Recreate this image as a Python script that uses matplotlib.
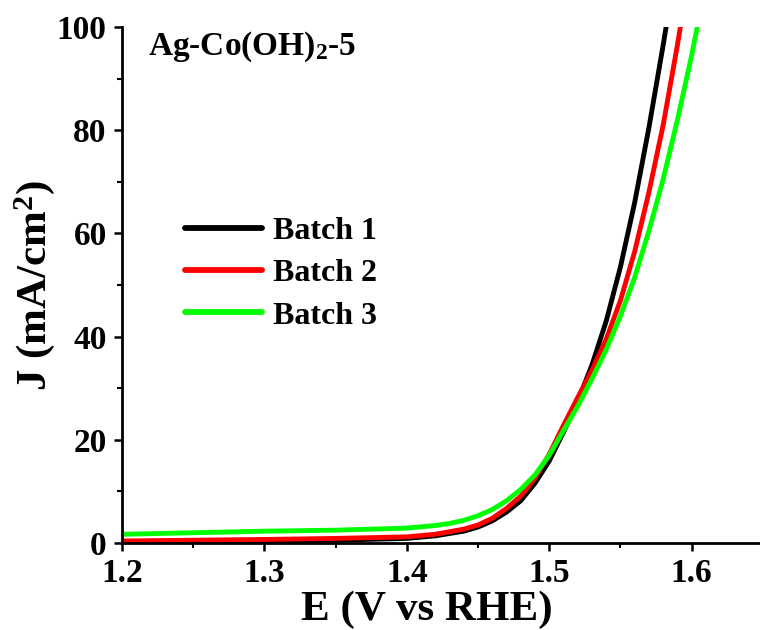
import numpy as np
import matplotlib
matplotlib.use("Agg")
import matplotlib.pyplot as plt
from matplotlib.ticker import MultipleLocator

plt.rcParams['font.family'] = 'serif'
plt.rcParams['font.serif'] = ['Liberation Serif', 'DejaVu Serif']
plt.rcParams['font.weight'] = 'bold'
plt.rcParams['mathtext.fontset'] = 'custom'
plt.rcParams['mathtext.rm'] = 'Liberation Serif:bold'
plt.rcParams['mathtext.default'] = 'rm'

# LSV curves (E in V vs RHE, J in mA/cm2)
e1 = [1.20, 1.25, 1.30, 1.35, 1.40, 1.42, 1.44, 1.45, 1.46, 1.47, 1.48, 1.49,
      1.50, 1.51, 1.52, 1.53, 1.54, 1.55, 1.56, 1.57, 1.58, 1.585]
j1 = [0.1, 0.2, 0.35, 0.55, 0.9, 1.4, 2.3, 3.1, 4.3, 6.0, 8.2, 11.6,
      15.9, 21.5, 27.5, 34.5, 43.0, 53.5, 66.0, 80.5, 96.5, 105.0]

e2 = [1.20, 1.25, 1.30, 1.35, 1.40, 1.42, 1.44, 1.45, 1.46, 1.47, 1.48, 1.49,
      1.50, 1.51, 1.52, 1.53, 1.54, 1.55, 1.56, 1.57, 1.58, 1.59, 1.595]
j2 = [0.4, 0.55, 0.7, 0.9, 1.2, 1.7, 2.7, 3.5, 4.8, 6.7, 9.1, 12.6,
      17.2, 22.8, 28.2, 33.5, 39.5, 47.0, 56.5, 68.0, 81.0, 96.5, 105.0]

e3 = [1.20, 1.25, 1.30, 1.35, 1.40, 1.42, 1.43, 1.44, 1.45, 1.46, 1.47, 1.48,
      1.49, 1.50, 1.51, 1.52, 1.53, 1.54, 1.55, 1.56, 1.57, 1.58, 1.59, 1.60, 1.605]
j3 = [1.7, 2.0, 2.3, 2.5, 2.9, 3.4, 3.8, 4.4, 5.3, 6.5, 8.2, 10.4,
      13.2, 17.0, 21.8, 26.5, 31.8, 37.5, 44.0, 51.5, 60.5, 70.5, 82.0, 94.5, 101.5]

labels = ["Batch 1", "Batch 2", "Batch 3"]
colors = ["black", "red", "#00ff00"]

fig = plt.figure(figsize=(7.6, 6.3), dpi=100)
ax = fig.add_axes([0.1605, 0.138, 0.8395, 0.819])

for e, j, lab, c in zip([e1, e2, e3], [j1, j2, j3], labels, colors):
    ax.plot(e, j, color=c, lw=3.5, label=lab, solid_capstyle='round',
            solid_joinstyle='round')

ax.set_xlim(1.2, 1.648)
ax.set_ylim(0, 100)
ax.xaxis.set_major_locator(MultipleLocator(0.1))
ax.xaxis.set_minor_locator(MultipleLocator(0.05))
ax.yaxis.set_major_locator(MultipleLocator(20))
ax.yaxis.set_minor_locator(MultipleLocator(10))

for s in ['top', 'right']:
    ax.spines[s].set_visible(False)
for s in ['left', 'bottom']:
    ax.spines[s].set_linewidth(2.0)

ax.tick_params(axis='both', which='major', direction='out', length=6, width=1.8,
               labelsize=24, pad=5)
ax.tick_params(axis='both', which='minor', direction='out', length=3.5, width=1.5)
for lab in ax.get_xticklabels() + ax.get_yticklabels():
    lab.set_fontweight('bold')

ax.set_xlabel("E (V vs RHE)", fontsize=31, fontweight='bold', labelpad=1)
ax.xaxis.label.set_x(0.478)
ax.set_ylabel(r"J (mA/cm$^2$)", fontsize=31, fontweight='bold', labelpad=0)

ax.text(0.041, 0.961, r"Ag-Co(OH)$_2$-5", transform=ax.transAxes,
        ha='left', va='center', fontsize=24, fontweight='bold')

leg = ax.legend(loc='upper left', bbox_to_anchor=(0.099, 0.632), frameon=False,
                borderpad=0, borderaxespad=0, handlelength=2.4, handletextpad=0.35,
                labelspacing=0.4, prop={'size': 23, 'weight': 'bold'})
for line in leg.get_lines():
    line.set_linewidth(4.2)

fig.savefig("out.png", dpi=100)
